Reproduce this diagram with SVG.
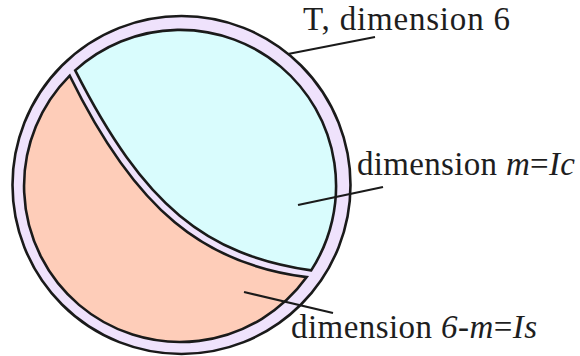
<svg xmlns="http://www.w3.org/2000/svg" width="580" height="356" viewBox="0 0 580 356">
<style>
.shape{stroke:#1a1a1a;stroke-width:2.6;stroke-linejoin:miter}
.ring{fill:#efe2fc}
.ic{fill:#d9fcfd}
.is{fill:#fecdb9}
.lead{stroke:#1a1a1a;stroke-width:2.2;fill:none}
.lbl{font-family:"Liberation Serif","Times New Roman",serif;font-size:33px;fill:#1e1e1e}
.it{font-style:italic}
</style>
<rect width="580" height="356" fill="#ffffff"/>
<g id="T">
<circle class="shape ring" cx="181.5" cy="185" r="169"/>
</g>
<g id="Ic">
<path class="shape ic" d="M75.2,70.4 C144.3,206.6 206.1,254.9 311.2,270.4 A156,156 0 0 0 75.2,70.4 Z"/>
</g>
<g id="Is">
<path class="shape is" d="M69.75,75.7 C135.8,210.85 204.7,264.3 306.7,277.1 A156,156 0 1 1 69.75,75.7 Z"/>
</g>
<g id="connectors">
<line class="lead" x1="288" y1="54" x2="375" y2="37"/>
<line class="lead" x1="298" y1="205" x2="383" y2="187"/>
<line class="lead" x1="244" y1="292" x2="333" y2="313"/>
</g>
<g id="label-T">
<text class="lbl" x="303" y="30" textLength="207">T, dimension 6</text>
</g>
<g id="label-Ic">
<text class="lbl" x="357" y="175" textLength="218">dimension <tspan class="it">m</tspan>=<tspan class="it">Ic</tspan></text>
</g>
<g id="label-Is">
<text class="lbl" x="291" y="338" textLength="246">dimension <tspan class="it">6-m</tspan>=<tspan class="it">Is</tspan></text>
</g>
</svg>
